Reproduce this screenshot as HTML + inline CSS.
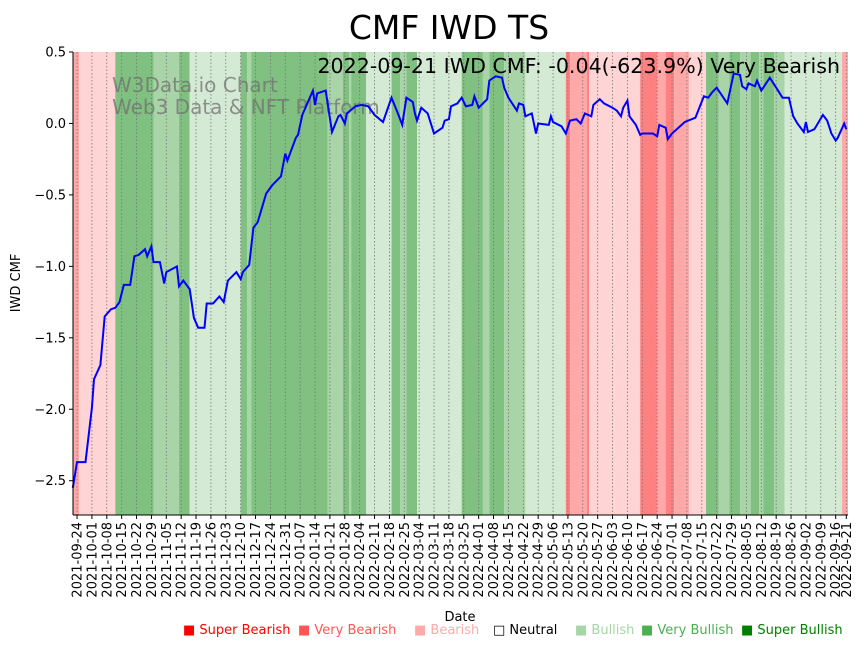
<!DOCTYPE html>
<html><head><meta charset="utf-8"><style>
body{margin:0;background:#fff;width:867px;height:646px;overflow:hidden;font-family:"Liberation Sans","DejaVu Sans",sans-serif;}
svg text{font-family:"DejaVu Sans","Liberation Sans",sans-serif;}
</style></head><body>
<svg id="chart" width="867" height="646" xmlns="http://www.w3.org/2000/svg">
<text x="449" y="39" font-size="33" text-anchor="middle">CMF IWD TS</text>
<g id="bands"></g>
<g id="grid"></g>
<text x="112" y="92" font-size="20" fill="#707070" fill-opacity="0.75">W3Data.io Chart</text>
<text x="112" y="114" font-size="20" fill="#707070" fill-opacity="0.75">Web3 Data &amp; NFT Platform</text>
<path id="line" fill="none" stroke="#0000ff" stroke-width="2"/>
<text x="840" y="73" font-size="20.6" text-anchor="end">2022-09-21 IWD CMF: -0.04(-623.9%) Very Bearish</text>
<g id="axes"></g>
<text transform="translate(20,283) rotate(-90)" font-size="13" text-anchor="middle">IWD CMF</text>
<text x="460" y="621" font-size="13" text-anchor="middle">Date</text>
<g id="legend" font-size="13"></g>
</svg>
<script>
const bandStart=[-2,1,18,36,48,53,77,80,82,118,125,128,129,136,148,152,155,160,181,191,194,201,211,230,232,240,241,265,273,277,281,288,296,302,307,312,317,321,323,328,333,360];
const bandEnd=363;
const bandCat=['vb','b','sbu','vbu','sbu','bu','sbu','vbu','sbu','vbu','sbu','vbu','sbu','bu','sbu','vbu','sbu','bu','sbu','vbu','sbu','vbu','bu','sb','vb','sb','b','sb','vb','sb','vb','b','sbu','vbu','sbu','vbu','sbu','vbu','sbu','vbu','bu','vb'];
const days=[-2,0,4,7,8,11,13,16,18,20,22,25,27,29,32,33,35,36,39,41,42,47,48,50,53,55,57,60,61,64,67,69,71,75,77,78,81,83,85,89,92,96,98,99,103,104,106,111,112,113,117,120,123,124,126,127,131,134,137,140,144,148,151,153,155,158,159,160,162,165,168,172,173,175,176,179,181,183,186,187,189,193,194,197,200,201,203,207,208,210,211,214,216,217,222,223,224,228,230,232,235,237,239,242,243,246,248,252,254,256,257,259,260,263,265,266,271,273,274,277,278,280,286,291,295,297,299,301,306,309,312,313,315,316,319,320,322,326,329,332,335,337,339,342,343,344,347,349,351,353,355,357,358,361,362];
const values=[-2.55,-2.37,-2.37,-1.99,-1.79,-1.69,-1.35,-1.30,-1.29,-1.25,-1.13,-1.13,-0.93,-0.92,-0.88,-0.93,-0.86,-0.97,-0.97,-1.12,-1.04,-1.00,-1.14,-1.10,-1.16,-1.36,-1.43,-1.43,-1.26,-1.26,-1.21,-1.25,-1.10,-1.04,-1.09,-1.04,-0.99,-0.73,-0.69,-0.49,-0.43,-0.37,-0.21,-0.26,-0.10,-0.08,0.06,0.23,0.13,0.21,0.23,-0.06,0.05,0.06,0.00,0.07,0.12,0.13,0.12,0.06,0.01,0.18,0.07,-0.01,0.18,0.15,0.07,0.02,0.11,0.07,-0.07,-0.03,0.02,0.03,0.12,0.14,0.18,0.12,0.13,0.19,0.11,0.17,0.30,0.33,0.32,0.25,0.18,0.09,0.14,0.13,0.05,0.07,-0.07,0.00,-0.01,0.05,0.01,-0.02,-0.07,0.02,0.03,0.00,0.07,0.05,0.13,0.17,0.14,0.11,0.09,0.05,0.11,0.16,0.05,-0.01,-0.08,-0.07,-0.07,-0.09,-0.01,-0.03,-0.11,-0.07,0.01,0.04,0.19,0.18,0.22,0.25,0.14,0.35,0.34,0.26,0.24,0.28,0.26,0.30,0.23,0.32,0.25,0.18,0.18,0.05,0.00,-0.06,0.01,-0.06,-0.04,0.01,0.06,0.02,-0.07,-0.12,-0.10,0.00,-0.04];
const yTicks=[0.5,0,-0.5,-1.0,-1.5,-2.0,-2.5];
const yTickLabels=['0.5','0.0','\u22120.5','\u22121.0','\u22121.5','\u22122.0','\u22122.5'];
const legendLabels=['Super Bearish','Very Bearish','Bearish','Neutral','Bullish','Very Bullish','Super Bullish'];

const NS='http://www.w3.org/2000/svg';
const L=73,R=848,T=52,B=515;
const d0=-1.9,d1=362.8,v0=-2.74,v1=0.5;
const xs=d=>L+(d-d0)/(d1-d0)*(R-L);
const ys=v=>B-(v-v0)/(v1-v0)*(B-T);
const colors={sb:'#ff8080',vb:'#ffa8a8',b:'#ffd4d4',bu:'#d4ead4',vbu:'#a8d4a8',sbu:'#80c080'};
function mk(tag,attrs,parent){const e=document.createElementNS(NS,tag);for(const k in attrs)e.setAttribute(k,attrs[k]);parent.appendChild(e);return e;}
const gb=document.getElementById('bands');
bandStart.forEach((s,i)=>{
  const e=i+1<bandStart.length?bandStart[i+1]:bandEnd;
  const x0=Math.max(L,xs(s)),x1=Math.min(R,xs(e));
  const r=mk('rect',{x:x0,y:T,width:x1-x0,height:B-T,fill:colors[bandCat[i]]},gb);
  
  
});
const start=new Date(Date.UTC(2021,8,24));
const tickDays=[];for(let k=0;k<=51;k++)tickDays.push(k*7);tickDays.push(362);
const gg=document.getElementById('grid'),ga=document.getElementById('axes');
tickDays.forEach(d=>{
  const x=xs(d);
  const g=mk('line',{x1:x,x2:x,y1:T,y2:B,stroke:'#777','stroke-width':0.8,'stroke-dasharray':'1.5,2'},gg);
  
  
  mk('line',{x1:x,x2:x,y1:B,y2:B+4,stroke:'#000','stroke-width':1},ga);
  const dt=new Date(start.getTime()+d*86400000);
  const lab=dt.toISOString().slice(0,10);
  const t=mk('text',{transform:`translate(${x+4.5},${B+7}) rotate(-90)`,'font-size':13,'text-anchor':'end'},ga);
  t.textContent=lab;
  
  
});
yTicks.forEach((v,i)=>{
  const y=ys(v);
  mk('line',{x1:L-4,x2:L,y1:y,y2:y,stroke:'#000','stroke-width':1},ga);
  const t=mk('text',{x:L-7,y:y+4.5,'font-size':13,'text-anchor':'end'},ga);
  t.textContent=yTickLabels[i];
  
  
});
mk('line',{x1:L,x2:L,y1:T,y2:B,stroke:'#000','stroke-width':1},ga);
mk('line',{x1:L,x2:R,y1:B,y2:B,stroke:'#000','stroke-width':1},ga);
document.getElementById('line').setAttribute('d',days.map((d,i)=>(i?'L':'M')+xs(d).toFixed(1)+','+ys(values[i]).toFixed(1)).join(''));
const lg=document.getElementById('legend');
const lx=[183,298,414,493,575,641,741];
const lcol=['#ff0000','#ff5555','#ffaaaa','#000000','#a5d6a5','#4caf50','#008000'];
const lglyph=['\u25A0','\u25A0','\u25A0','\u25A1','\u25A0','\u25A0','\u25A0'];
legendLabels.forEach((s,i)=>{
  const t=mk('text',{x:lx[i],y:634,fill:lcol[i]},lg);
  t.textContent=lglyph[i]+' '+s;
  
  
});
</script>
</body></html>
